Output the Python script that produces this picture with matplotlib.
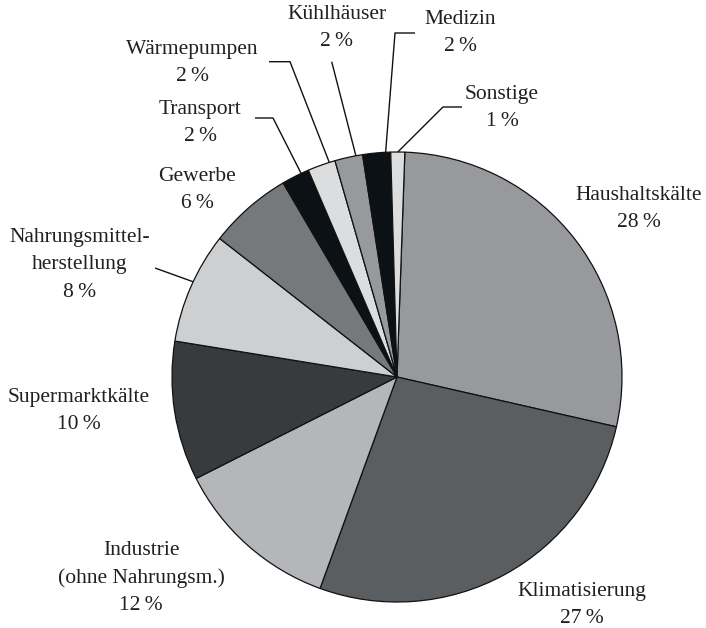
import numpy as np
import matplotlib
matplotlib.use("Agg")
import matplotlib.pyplot as plt

# ---- data ----
categories = ["Haushaltskälte", "Klimatisierung", "Industrie\n(ohne Nahrungsm.)",
              "Supermarktkälte", "Nahrungsmittel-\nherstellung", "Gewerbe",
              "Transport", "Wärmepumpen", "Kühlhäuser", "Medizin", "Sonstige"]
shares = [28, 27, 12, 10, 8, 6, 2, 2, 2, 2, 1]
colors = ["#97999c", "#5b5e61", "#b4b6b9", "#383b3e", "#cdcfd1", "#76797c",
          "#0c1115", "#dcdddf", "#97999c", "#0c1115", "#dcdddf"]

# ---- layout (pixel coords from top-left) ----
W, H = 706, 628
CX, CY, R = 397, 377, 225
label_pos = [(639, 209), (582, 605), (141, 578), (79, 411), (80, 265), (197, 190),
             (200, 123), (192, 63), (337, 28), (460, 33), (502, 108)]
# leader: (fraction along wedge, list of points from wedge edge outwards)
leaders = {
    10: (0.5, [(443, 107), (462, 107)]),
    9: (0.18, [(395, 33), (415, 33)]),
    8: (0.24, [(331.7, 61.7)]),
    7: (0.21, [(290, 61.7), (269, 61.7)]),
    6: (0.28, [(273, 118), (255, 118)]),
    4: (0.45, [(155, 268)]),
}

def Y(y):
    return H - y

plt.rcParams['font.family'] = ['Liberation Serif', 'DejaVu Serif']
fig = plt.figure(figsize=(W / 100, H / 100), dpi=100)
ax = fig.add_axes([0, 0, 1, 1])

wedges, _ = ax.pie(shares, colors=colors, startangle=88, counterclock=False,
                   center=(CX, Y(CY)), radius=R,
                   wedgeprops=dict(edgecolor="#111111", linewidth=0.9))

ax.set_xlim(0, W)
ax.set_ylim(0, H)
ax.set_aspect('equal')
ax.axis('off')

txtcol = "#231f20"
for i, (cat, val) in enumerate(zip(categories, shares)):
    x, y = label_pos[i]
    ax.text(x, Y(y), f"{cat}\n{val}\u2009%", ha="center", va="center",
            multialignment="center", fontsize=15.5, color=txtcol, linespacing=1.58)

for i, (f, pts) in leaders.items():
    w = wedges[i]
    ang = np.deg2rad(w.theta1 + f * (w.theta2 - w.theta1))
    x0 = CX + R * np.cos(ang)
    y0 = Y(CY) + R * np.sin(ang)
    xs = [x0] + [p[0] for p in pts]
    ys = [y0] + [Y(p[1]) for p in pts]
    ax.plot(xs, ys, color="#111111", linewidth=1.0, solid_capstyle="butt")

fig.savefig("out.png", dpi=100)
